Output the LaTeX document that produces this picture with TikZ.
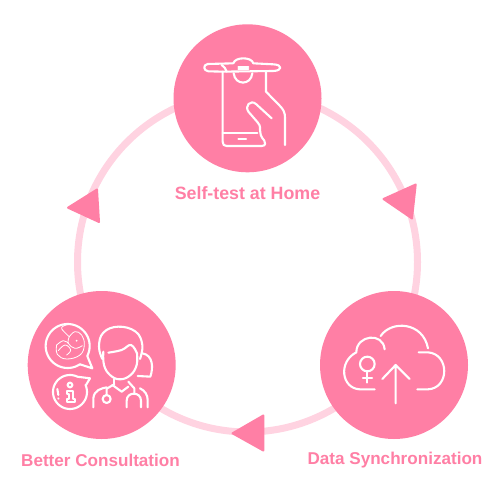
\documentclass[tikz,border=0pt]{standalone}
\usepackage{fontspec}
\setmainfont{Liberation Sans}
\definecolor{pinkmain}{HTML}{FF7FA5}
\definecolor{pinkring}{HTML}{FFD3E1}
\tikzset{
  disc/.style={circle,fill=pinkmain,minimum size=148pt,inner sep=0pt},
  ringline/.style={draw=pinkring,line width=7pt},
  tri/.style={fill=pinkmain,draw=pinkmain,line width=2pt,line join=round},
  icon/.style={draw=white,line width=2.1pt,line cap=round,line join=round},
  thin icon/.style={draw=white,line width=0.8pt,line cap=round,line join=round},
  captext/.style={text=pinkmain,font=\bfseries\fontsize{17.1}{20}\selectfont,inner sep=0pt,anchor=center},
  captop/.style={captext,font=\bfseries\fontsize{17.8}{20}\selectfont},
  sm/.style={smooth,tension=0.7}
}
\begin{document}
\begin{tikzpicture}[x=1pt,y=-1pt]
\useasboundingbox (0,0) rectangle (494,494);
\fill[white] (0,0) rectangle (494,494);
\draw[ringline] (247.5,262) circle[radius=170];
\node[disc] (top) at (247.5,98.3) {};
\node[disc] (left) at (101.7,365) {};
\node[disc] (right) at (394,365) {};
\fill[tri] (415.7,184.5) -- (383.5,199) -- (412,218.5) -- cycle;
\fill[tri] (263.3,415.5) -- (232.5,433.3) -- (263.3,450.5) -- cycle;
\fill[tri] (97,189.5) -- (68,207.7) -- (99,222) -- cycle;
\node[captop] (t1) at (247.5,193.5) {Self-test at Home};
\node[captext] (t2) at (100.5,460) {Better Consultation};
\node[captext] (t3) at (395,460) {Data Synchronization};

% phone
\begin{scope}[shift={(170,20)},scale=0.3333]
\draw[icon] (190,130) -- (113,132) .. controls (99,134) and (99,152) .. (115,154) -- (160,155) -- (310,153) .. controls (338,152) and (338,134) .. (310,133) -- (250,130) .. controls (245,110) and (195,110) .. (190,130);
\draw[icon] (155,135) .. controls (163,140) and (168,147) .. (170,155);
\draw[icon] (205,140) -- (235,140) (205,148) -- (235,148);
\draw[icon] (191,160) .. controls (195,197) and (243,197) .. (247,160);
\draw[icon] (158,155) -- (158,365) .. controls (158,374) and (162,378) .. (170,378) -- (275,378) .. controls (287,378) and (288,368) .. (283,362) .. controls (272,350) and (270,340) .. (270,330) .. controls (271,318) and (268,312) .. (262,306) -- (236,276) .. controls (222,258) and (242,238) .. (258,252) -- (305,295);
\draw[icon] (288,155) -- (288,215) -- (330,258) .. controls (340,268) and (345,278) .. (345,292) -- (345,375);
\draw[icon] (158,338) -- (262,338);
\draw[icon] (205,357) -- (228,357);
\end{scope}

% doctor
\begin{scope}[shift={(25,290)},scale=0.3333]
\draw[icon] (202,235) -- (165,223) -- plot[domain=56:387,samples=70] ({128+66*cos(\x)},{168+66*sin(\x)}) -- cycle;
% fetus
\draw[thin icon] plot[sm] coordinates {(133,140) (150,125) (170,135) (178,165) (165,195) (125,207) (97,193) (95,165)};
\draw[thin icon] plot[sm] coordinates {(133,140) (130,160) (150,175) (172,167)};
\draw[thin icon] plot[sm] coordinates {(95,165) (115,152) (130,160)};
\draw[thin icon] plot[sm] coordinates {(100,182) (120,165) (137,180) (125,195)};
\draw[thin icon] plot[sm] coordinates {(135,102) (110,112) (122,130) (133,140)};
\fill[white] (155,152) circle[radius=3];
% info bubble
\draw[icon] (195,265) -- (183,285) -- plot[domain=-24:296,samples=70] ({135+51*cos(\x)},{306+51*sin(\x)}) -- cycle;
\draw[icon] (135,285) circle[radius=7];
\draw[icon] (125,302) -- (145,302) -- (145,326) -- (151,326) -- (151,335) -- (125,335) -- (125,326) -- (131,326) -- (131,311) -- (125,311) -- cycle;
\draw[icon] (97,297) -- (100,315);
\draw[icon] (100,325) -- (100.5,326);
% head
\draw[icon] plot[sm] coordinates {(232,207) (222,170) (235,128) (280,110) (332,125) (352,165) (345,207)};
\draw[icon] plot[sm] coordinates {(235,185) (237,225) (255,255) (285,268) (317,255) (335,225) (336,190)};
\draw[icon] plot[sm] coordinates {(250,188) (290,180) (318,165) (336,190)};
\draw[icon] (352,190) .. controls (385,195) and (385,235) .. (376,260) -- (338,258);
\draw[icon] (268,268) -- (268,283);
\draw[icon] (262,285) -- (290,305) -- (310,290);
\draw[icon] (205,352) -- (205,325) .. controls (207,300) and (230,295) .. (245,292);
\draw[icon] (268,283) -- (245,296) -- (245,315);
\draw[icon] (245,327) circle[radius=12];
\draw[icon] (310,275) -- (328,295) -- (328,312);
\draw[icon] (305,352) -- (305,332) .. controls (305,304) and (348,304) .. (348,332) -- (348,352);
\draw[icon] (345,295) .. controls (360,302) and (368,315) .. (368,330) -- (368,352);
\end{scope}

% cloud
\begin{scope}[shift={(318,290)},scale=0.3333]
\draw[icon] (170,298) -- (125,298) .. controls (70,295) and (60,215) .. (115,187) .. controls (115,135) and (195,125) .. (200,178);
\draw[icon] (188,138) .. controls (220,90) and (315,95) .. (330,175);
\draw[icon] (302,187) -- (330,187) .. controls (395,192) and (395,295) .. (330,298) -- (298,298);
\draw[icon] (148,222) circle[radius=22];
\draw[icon] (148,245) -- (148,278) (135,265) -- (162,265);
\draw[icon] (233,340) -- (233,225) (193,267) -- (233,225) -- (275,267);
\end{scope}
\end{tikzpicture}
\end{document}
